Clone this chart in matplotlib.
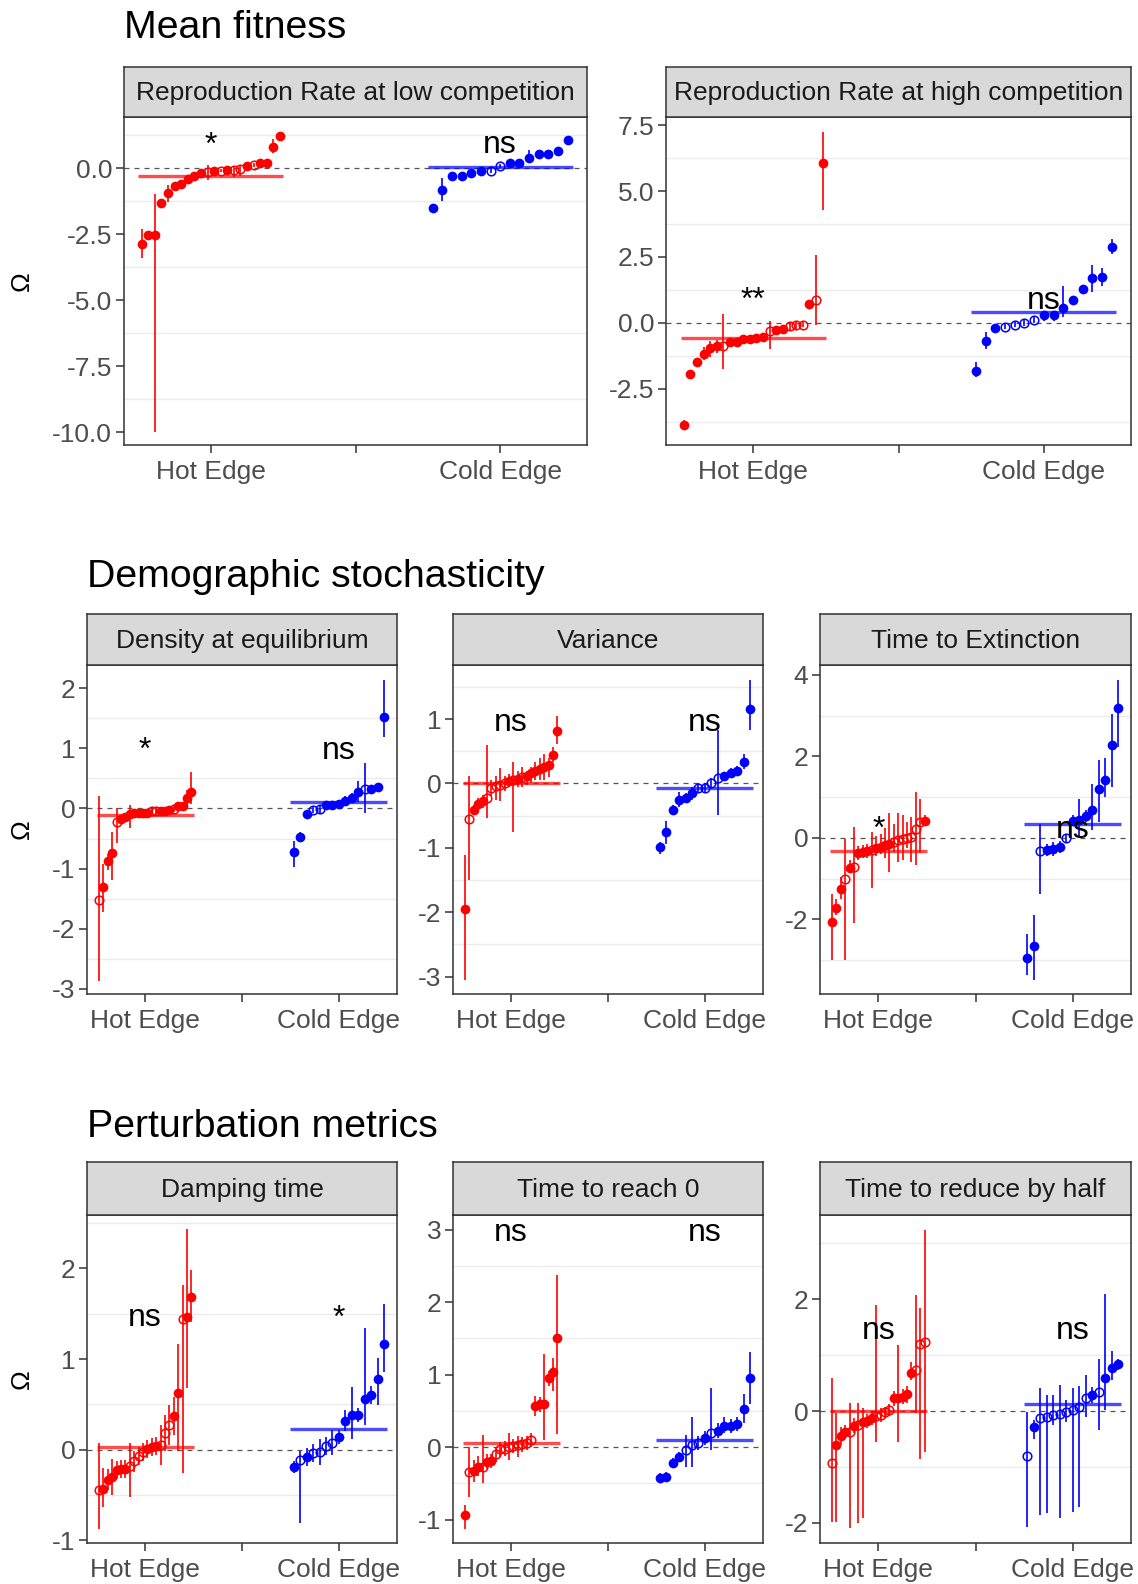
import matplotlib
matplotlib.use("Agg")
import matplotlib.pyplot as plt
import numpy as np

plt.rcParams["font.family"] = ["Liberation Sans", "DejaVu Sans"]
plt.rcParams["axes.unicode_minus"] = False

HOT = "#FF0000"
COLD = "#0000FF"
INK = "#333333"

# ---- Reproduction Rate at low competition ----
rlow_hot = [-2.88, -2.54, -2.54, -1.31, -0.93, -0.68, -0.61, -0.42, -0.29, -0.20, -0.15,
            -0.10, -0.09, -0.08, -0.08, -0.03, 0.08, 0.11, 0.18, 0.18, 0.81, 1.21]
rlow_hot_lo = [-3.40, -2.66, -9.99, -1.40, -1.30, -0.78, -0.70, -0.52, -0.38, -0.28, -0.43,
               -0.18, -0.16, -0.15, -0.33, -0.29, 0.00, 0.04, 0.10, 0.10, 0.56, 1.10]
rlow_hot_hi = [-2.29, -2.42, -0.96, -1.22, -0.64, -0.58, -0.50, -0.32, -0.20, -0.12, 0.11,
               -0.02, -0.02, -0.01, 0.05, 0.11, 0.16, 0.18, 0.26, 0.26, 1.09, 1.33]
rlow_hot_open = [0, 0, 0, 0, 0, 0, 0, 0, 0, 0, 1, 0, 1, 0, 1, 1, 0, 1, 0, 0, 0, 0]
rlow_cold = [-1.50, -0.81, -0.29, -0.29, -0.20, -0.11, -0.10, 0.09, 0.18, 0.20, 0.39,
             0.53, 0.53, 0.64, 1.06]
rlow_cold_lo = [-1.62, -1.24, -0.36, -0.36, -0.28, -0.19, -0.20, 0.01, 0.10, 0.12, 0.20,
                0.45, 0.45, 0.56, 0.96]
rlow_cold_hi = [-1.40, -0.39, -0.22, -0.22, -0.12, -0.03, 0.00, 0.17, 0.26, 0.28, 0.68,
                0.61, 0.61, 0.72, 1.20]
rlow_cold_open = [0, 0, 0, 0, 0, 0, 1, 1, 0, 0, 0, 0, 0, 0, 0]

# ---- Reproduction Rate at high competition ----
rhigh_hot = [-3.87, -1.94, -1.50, -1.19, -0.97, -0.90, -0.88, -0.74, -0.74, -0.63, -0.63,
             -0.58, -0.54, -0.32, -0.29, -0.24, -0.14, -0.08, -0.08, 0.72, 0.86, 6.08]
rhigh_hot_lo = [-4.05, -2.05, -1.60, -1.43, -1.30, -1.15, -1.74, -0.84, -0.84, -0.73, -0.73,
                -0.68, -0.64, -0.98, -0.39, -0.34, -0.30, -0.25, -0.18, 0.62, -0.10, 4.27]
rhigh_hot_hi = [-3.69, -1.84, -1.40, -0.92, -0.68, -0.65, 0.34, -0.64, -0.64, -0.53, -0.53,
                -0.48, -0.44, 0.06, -0.19, -0.14, 0.02, 0.05, 0.02, 0.82, 2.57, 7.23]
rhigh_hot_open = [0, 0, 0, 0, 0, 0, 1, 0, 0, 0, 0, 0, 0, 1, 0, 0, 1, 1, 1, 0, 1, 0]
rhigh_cold = [-1.83, -0.71, -0.21, -0.15, -0.08, -0.01, 0.11, 0.29, 0.29, 0.57, 0.86,
              1.27, 1.69, 1.73, 2.89]
rhigh_cold_lo = [-2.07, -1.00, -0.31, -0.25, -0.18, -0.11, 0.00, 0.05, 0.05, 0.21, 0.76,
                 1.12, 1.15, 1.40, 2.60]
rhigh_cold_hi = [-1.48, -0.35, -0.11, -0.05, 0.02, 0.09, 0.21, 0.42, 0.42, 1.41, 0.96,
                 1.42, 2.20, 2.07, 3.18]
rhigh_cold_open = [0, 0, 0, 1, 1, 1, 1, 0, 0, 0, 0, 0, 0, 0, 0]

# ---- Density at equilibrium ----
dens_hot = [-1.52, -1.31, -0.87, -0.74, -0.23, -0.18, -0.14, -0.10, -0.08, -0.08, -0.07,
            -0.07, -0.04, -0.04, -0.04, -0.04, -0.03, -0.01, 0.04, 0.04, 0.18, 0.28]
dens_hot_lo = [-2.87, -1.72, -1.02, -1.19, -0.58, -0.24, -0.20, -0.33, -0.13, -0.13, -0.12,
               -0.12, -0.09, -0.09, -0.09, -0.09, -0.08, -0.06, -0.02, -0.02, 0.05, 0.08]
dens_hot_hi = [0.21, -0.92, -0.75, -0.39, 0.00, -0.12, -0.08, 0.05, -0.03, -0.03, -0.02,
               -0.02, 0.01, 0.01, 0.01, 0.01, 0.02, 0.04, 0.10, 0.10, 0.30, 0.61]
dens_hot_open = [1, 0, 0, 0, 1, 0, 0, 0, 0, 0, 0, 0, 1, 1, 0, 0, 0, 1, 0, 0, 0, 0]
dens_cold = [-0.73, -0.47, -0.10, -0.02, -0.01, 0.05, 0.06, 0.07, 0.13, 0.18, 0.28,
             0.32, 0.32, 0.35, 1.53]
dens_cold_lo = [-0.97, -0.55, -0.16, -0.08, -0.07, -0.01, 0.00, 0.01, 0.06, 0.10, 0.11,
                -0.07, 0.25, 0.28, 1.19]
dens_cold_hi = [-0.54, -0.39, -0.04, 0.04, 0.05, 0.11, 0.12, 0.13, 0.20, 0.26, 0.45,
                0.75, 0.39, 0.42, 2.14]
dens_cold_open = [0, 0, 0, 1, 1, 0, 0, 0, 0, 0, 0, 1, 0, 0, 0]

# ---- Variance ----
var_hot = [-1.95, -0.55, -0.41, -0.32, -0.28, -0.23, -0.07, -0.04, -0.02, 0.00, 0.04,
           0.06, 0.07, 0.10, 0.12, 0.16, 0.20, 0.23, 0.25, 0.28, 0.44, 0.82]
var_hot_lo = [-3.06, -1.50, -0.48, -0.42, -0.38, -0.54, -0.20, -0.25, -0.28, -0.12, -0.05,
              -0.75, -0.05, -0.05, -0.02, 0.00, 0.05, 0.05, 0.05, 0.10, 0.33, 0.62]
var_hot_hi = [-1.11, 0.11, -0.34, -0.22, -0.18, 0.60, 0.05, 0.12, 0.24, 0.12, 0.14,
              0.34, 0.20, 0.25, 0.20, 0.26, 0.34, 0.40, 0.45, 0.40, 0.56, 1.05]
var_hot_open = [0, 1, 0, 0, 0, 1, 1, 1, 1, 1, 0, 1, 0, 1, 0, 0, 0, 0, 0, 0, 0, 0]
var_cold = [-0.99, -0.76, -0.41, -0.26, -0.23, -0.15, -0.07, -0.07, 0.01, 0.09, 0.11,
            0.16, 0.19, 0.33, 1.16]
var_cold_lo = [-1.09, -0.94, -0.48, -0.36, -0.31, -0.25, -0.14, -0.14, -0.06, -0.49, 0.04,
               0.08, 0.11, 0.23, 0.83]
var_cold_hi = [-0.91, -0.58, -0.34, -0.13, -0.15, -0.05, 0.00, 0.00, 0.08, 0.83, 0.18,
               0.24, 0.27, 0.45, 1.61]
var_cold_open = [0, 0, 0, 0, 0, 0, 1, 1, 1, 1, 0, 0, 0, 0, 0]

# ---- Time to Extinction ----
ext_hot = [-2.06, -1.71, -1.26, -1.00, -0.74, -0.71, -0.36, -0.34, -0.33, -0.30, -0.26,
           -0.22, -0.18, -0.14, -0.11, -0.06, -0.02, 0.00, 0.02, 0.21, 0.38, 0.42]
ext_hot_lo = [-3.00, -1.90, -1.50, -3.00, -0.85, -2.10, -0.55, -0.50, -0.50, -1.24, -0.45,
              -0.40, -0.50, -0.83, -0.35, -0.60, -0.55, -0.25, -0.60, -0.67, -0.38, 0.28]
ext_hot_hi = [-1.37, -1.50, -0.95, -0.02, -0.55, 0.27, -0.20, -0.18, -0.15, 0.15, 0.05,
              0.10, 0.25, 0.60, 0.35, 0.60, 0.55, 0.40, 0.50, 1.13, 0.96, 0.57]
ext_hot_open = [0, 0, 0, 1, 0, 1, 0, 0, 0, 1, 0, 0, 0, 0, 1, 1, 1, 1, 1, 1, 1, 0]
ext_cold = [-2.94, -2.65, -0.33, -0.30, -0.28, -0.22, 0.00, 0.42, 0.45, 0.54, 0.68,
            1.21, 1.41, 2.27, 3.19]
ext_cold_lo = [-3.37, -3.49, -1.37, -0.45, -0.45, -0.37, -0.10, 0.30, 0.02, 0.40, 0.19,
               0.39, 1.00, 1.25, 2.23]
ext_cold_hi = [-2.35, -1.90, 0.35, -0.15, -0.10, -0.07, 0.10, 0.55, 0.96, 0.68, 1.33,
               1.91, 1.95, 3.05, 3.87]
ext_cold_open = [0, 0, 1, 0, 0, 0, 1, 0, 0, 0, 0, 0, 0, 0, 0]

# ---- Damping time ----
damp_hot = [-0.44, -0.43, -0.33, -0.30, -0.22, -0.21, -0.21, -0.18, -0.13, -0.07, -0.03,
            0.01, 0.03, 0.04, 0.05, 0.18, 0.27, 0.37, 0.63, 1.44, 1.46, 1.68]
damp_hot_lo = [-0.87, -0.63, -0.45, -0.50, -0.32, -0.31, -0.31, -0.52, -0.25, -0.17, -0.13,
               -0.09, -0.07, -0.06, -0.17, -0.01, 0.05, 0.16, -0.02, -0.26, 0.68, 1.41]
damp_hot_hi = [0.07, -0.20, -0.21, -0.10, -0.12, -0.11, -0.11, 0.07, -0.01, 0.03, 0.07,
               0.11, 0.13, 0.14, 0.27, 0.38, 0.49, 0.58, 1.17, 1.82, 2.44, 1.98]
damp_hot_open = [1, 0, 0, 0, 0, 0, 0, 1, 1, 1, 1, 0, 0, 0, 1, 1, 1, 0, 0, 1, 0, 0]
damp_cold = [-0.19, -0.11, -0.08, -0.04, -0.03, 0.04, 0.07, 0.14, 0.32, 0.38, 0.38,
             0.56, 0.60, 0.78, 1.17]
damp_cold_lo = [-0.26, -0.81, -0.18, -0.14, -0.17, -0.06, -0.06, 0.06, 0.21, 0.12, 0.30,
                0.27, 0.50, 0.49, 0.86]
damp_cold_hi = [-0.12, -0.02, 0.02, 0.06, 0.12, 0.14, 0.22, 0.22, 0.44, 0.69, 0.46,
                1.34, 0.70, 1.01, 1.61]
damp_cold_open = [0, 1, 0, 1, 1, 1, 1, 0, 0, 0, 0, 0, 0, 0, 0]

# ---- Time to reach 0 ----
reach_hot = [-0.93, -0.34, -0.33, -0.27, -0.27, -0.20, -0.19, -0.10, -0.03, -0.02, 0.00,
             0.02, 0.03, 0.04, 0.06, 0.10, 0.57, 0.59, 0.60, 0.95, 1.04, 1.51]
reach_hot_lo = [-1.13, -0.68, -0.48, -0.40, -0.50, -0.30, -0.29, -0.20, -0.13, -0.12, -0.18,
                -0.08, -0.13, -0.06, -0.04, 0.00, 0.43, 0.49, 0.10, 0.85, 0.78, 0.18]
reach_hot_hi = [-0.80, 0.00, -0.18, -0.12, 0.17, -0.10, -0.09, 0.00, 0.07, 0.08, 0.19,
                0.12, 0.16, 0.14, 0.16, 0.20, 0.70, 0.69, 1.28, 1.05, 1.23, 2.38]
reach_hot_open = [0, 1, 0, 0, 1, 0, 0, 1, 1, 1, 1, 1, 1, 1, 1, 1, 0, 0, 0, 0, 0, 0]
reach_cold = [-0.43, -0.41, -0.22, -0.13, -0.04, 0.03, 0.06, 0.13, 0.20, 0.23, 0.29,
              0.29, 0.32, 0.53, 0.95]
reach_cold_lo = [-0.50, -0.48, -0.29, -0.20, -0.27, -0.27, -0.04, 0.03, -0.04, 0.13, 0.19,
                 0.19, 0.22, 0.33, 0.59]
reach_cold_hi = [-0.36, -0.34, -0.15, -0.06, 0.17, 0.42, 0.16, 0.23, 0.82, 0.33, 0.41,
                 0.39, 0.42, 0.73, 1.31]
reach_cold_open = [0, 0, 0, 0, 1, 1, 1, 0, 1, 0, 0, 0, 0, 0, 0]

# ---- Time to reduce by half ----
half_hot = [-0.93, -0.60, -0.44, -0.38, -0.37, -0.26, -0.25, -0.19, -0.18, -0.13, -0.09,
            -0.07, -0.02, 0.02, 0.23, 0.24, 0.26, 0.30, 0.69, 0.73, 1.21, 1.23]
half_hot_lo = [-1.98, -1.98, -0.60, -0.50, -2.10, -0.40, -2.01, -1.92, -0.30, -0.25, -0.55,
               -0.20, -0.12, -0.08, 0.10, -0.55, 0.12, 0.15, 0.55, -0.04, -0.85, -0.73]
half_hot_hi = [0.59, -0.04, -0.28, -0.25, 0.14, -0.12, 0.14, 0.05, -0.06, 0.00, 1.90,
               0.05, 0.08, 0.12, 0.36, 1.19, 0.40, 0.45, 0.88, 2.08, 1.84, 3.24]
half_hot_open = [1, 0, 0, 0, 1, 0, 1, 0, 0, 0, 1, 1, 1, 1, 0, 0, 0, 0, 0, 1, 1, 1]
half_cold = [-0.80, -0.29, -0.12, -0.10, -0.07, -0.06, -0.01, 0.02, 0.07, 0.24, 0.29,
             0.35, 0.59, 0.78, 0.84]
half_cold_lo = [-2.07, -0.50, -1.86, -1.83, -0.25, -1.92, -0.20, -1.80, -1.72, -0.10, 0.15,
                -0.34, 0.02, 0.56, 0.74]
half_cold_hi = [-0.01, -0.15, 0.41, 0.29, 0.29, 0.47, 0.20, 0.42, 0.45, 0.64, 0.43,
                0.93, 2.09, 1.07, 0.94]
half_cold_open = [1, 0, 1, 1, 1, 1, 1, 1, 1, 1, 0, 1, 0, 0, 0]

# group means (horizontal bars) and significance labels
means_hot = [-0.30, -0.57, -0.11, 0.00, -0.33, 0.03, 0.06, 0.00]
means_cold = [0.06, 0.42, 0.10, -0.07, 0.33, 0.23, 0.10, 0.13]
sig_hot = ["*", "**", "*", "ns", "*", "ns", "ns", "ns"]
sig_cold = ["ns", "ns", "ns", "ns", "ns", "*", "ns", "ns"]
sig_y = [0.56, 0.53, 0.82, 0.81, 0.0, 1.36, 2.84, 1.29]

titles = ["Reproduction Rate at low competition", "Reproduction Rate at high competition",
          "Density at equilibrium", "Variance", "Time to Extinction",
          "Damping time", "Time to reach 0", "Time to reduce by half"]
x_labels = ["Hot Edge", "", "Cold Edge"]

W, H = 1138, 1584
fig = plt.figure(figsize=(W / 100, H / 100), dpi=100)
fig.patch.set_facecolor("white")


def px_axes(left, top, right, bottom):
    return fig.add_axes([left / W, 1 - bottom / H, (right - left) / W, (bottom - top) / H])


# (left, right, strip_top, axes_top, axes_bottom), y ticks, y limits, tick fmt
layout = [
    ((124, 587, 67, 117, 445), [-10, -7.5, -5, -2.5, 0], (-10.49, 1.94), "{:.1f}"),
    ((666, 1131, 67, 117, 445), [-2.5, 0, 2.5, 5, 7.5], (-4.64, 7.81), "{:.1f}"),
    ((87, 397, 614, 665, 994), [-3, -2, -1, 0, 1, 2], (-3.09, 2.39), "{:.0f}"),
    ((453, 763, 614, 665, 994), [-3, -2, -1, 0, 1], (-3.27, 1.84), "{:.0f}"),
    ((820, 1131, 614, 665, 994), [-2, 0, 2, 4], (-3.83, 4.24), "{:.0f}"),
    ((87, 397, 1162, 1215, 1543), [-1, 0, 1, 2], (-1.03, 2.59), "{:.0f}"),
    ((453, 763, 1162, 1215, 1543), [-1, 0, 1, 2, 3], (-1.32, 3.20), "{:.0f}"),
    ((820, 1131, 1162, 1215, 1543), [-2, 0, 2], (-2.36, 3.51), "{:.0f}"),
]

hot_sets = [
    (rlow_hot, rlow_hot_lo, rlow_hot_hi, rlow_hot_open),
    (rhigh_hot, rhigh_hot_lo, rhigh_hot_hi, rhigh_hot_open),
    (dens_hot, dens_hot_lo, dens_hot_hi, dens_hot_open),
    (var_hot, var_hot_lo, var_hot_hi, var_hot_open),
    (ext_hot, ext_hot_lo, ext_hot_hi, ext_hot_open),
    (damp_hot, damp_hot_lo, damp_hot_hi, damp_hot_open),
    (reach_hot, reach_hot_lo, reach_hot_hi, reach_hot_open),
    (half_hot, half_hot_lo, half_hot_hi, half_hot_open),
]
cold_sets = [
    (rlow_cold, rlow_cold_lo, rlow_cold_hi, rlow_cold_open),
    (rhigh_cold, rhigh_cold_lo, rhigh_cold_hi, rhigh_cold_open),
    (dens_cold, dens_cold_lo, dens_cold_hi, dens_cold_open),
    (var_cold, var_cold_lo, var_cold_hi, var_cold_open),
    (ext_cold, ext_cold_lo, ext_cold_hi, ext_cold_open),
    (damp_cold, damp_cold_lo, damp_cold_hi, damp_cold_open),
    (reach_cold, reach_cold_lo, reach_cold_hi, reach_cold_open),
    (half_cold, half_cold_lo, half_cold_hi, half_cold_open),
]


def draw_group(ax, center, color, data, mean, label, label_y):
    vals, lo, hi, is_open = (np.asarray(a, dtype=float) for a in data)
    n = len(vals)
    xs = center - 0.5 + (np.arange(n) + 0.5) / n  # dodge within the category
    op = is_open.astype(bool)
    ax.vlines(xs, lo, hi, color=color, lw=1.2, zorder=3)
    ax.plot(xs[~op], vals[~op], "o", color=color, ms=7.0, mew=0, zorder=4)
    ax.plot(xs[op], vals[op], "o", mfc="none", mec=color, mew=1.1, ms=6.2, zorder=4)
    ax.hlines(mean, center - 0.5, center + 0.5, color=color, alpha=0.7, lw=2.4, zorder=5)
    ax.text(center, label_y, label, ha="center", va="baseline", fontsize=23,
            color="black", zorder=6)


for i, ((left, right, s_top, a_top, a_bot), yticks, ylim, fmt) in enumerate(layout):
    ax = px_axes(left, a_top, right, a_bot)
    ax.set_xlim(0.4, 3.6)
    ax.set_ylim(*ylim)
    ax.set_facecolor("white")

    # only the "minor" horizontal grid lines, half way between ticks
    step = yticks[1] - yticks[0]
    mids = [yticks[0] - step / 2] + [t + step / 2 for t in yticks]
    for m in mids:
        if ylim[0] < m < ylim[1]:
            ax.axhline(m, color="#EBEBEB", lw=1.0, zorder=0)
    ax.axhline(0, color="#555555", lw=0.9, ls=(0, (4, 4)), zorder=1)

    draw_group(ax, 1, HOT, hot_sets[i], means_hot[i], sig_hot[i], sig_y[i])
    draw_group(ax, 3, COLD, cold_sets[i], means_cold[i], sig_cold[i], sig_y[i])

    ax.set_xticks([1, 2, 3])
    ax.set_xticklabels(x_labels)
    ax.set_yticks(yticks)
    ax.set_yticklabels([fmt.format(t) for t in yticks])
    ax.tick_params(axis="both", length=5.5, width=1.1, color=INK,
                   labelsize=19, labelcolor="#4D4D4D", pad=3)
    ax.tick_params(axis="x", pad=5)
    for sp in ax.spines.values():
        sp.set_color(INK)
        sp.set_linewidth(1.1)

    strip = px_axes(left, s_top, right, a_top)
    strip.set_facecolor("#D9D9D9")
    strip.set_xticks([])
    strip.set_yticks([])
    for sp in strip.spines.values():
        sp.set_color(INK)
        sp.set_linewidth(1.1)
    strip.text(0.5, 0.48, titles[i], ha="center", va="center", fontsize=19,
               color="#1A1A1A", transform=strip.transAxes)

# y axis titles for each row
for yc in (281, 829, 1379):
    fig.text(22 / W, 1 - yc / H, "Ω", rotation=90, ha="center", va="center",
             fontsize=19, color="black")

# section titles
fig.text(124 / W, 1 - 38 / H, "Mean fitness", fontsize=28.3, va="baseline")
fig.text(87 / W, 1 - 587 / H, "Demographic stochasticity", fontsize=28.3, va="baseline")
fig.text(87 / W, 1 - 1137 / H, "Perturbation metrics", fontsize=28.3, va="baseline")

fig.savefig("out.png", dpi=100, facecolor="white")
